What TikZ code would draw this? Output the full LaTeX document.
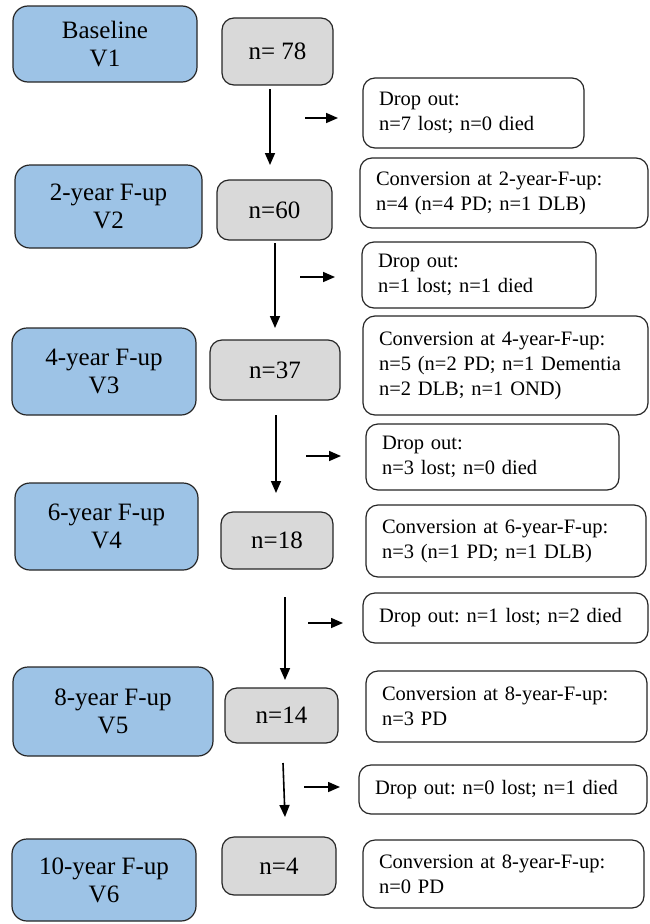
\documentclass[tikz,border=0pt]{standalone}
\usepackage{fontspec}
\setmainfont{Liberation Serif}
\usetikzlibrary{arrows.meta}
\definecolor{visitblue}{RGB}{157,195,230}
\definecolor{countgray}{RGB}{217,217,217}
\newcommand{\infofont}{\fontsize{20.5}{25}\selectfont\frenchspacing\hyphenpenalty=10000\relax}

\tikzset{
  visitbox/.style={draw=black!85, fill=visitblue, line width=1.2pt, rounded corners=15pt,
    align=center, font=\fontsize{25}{28}\selectfont},
  nbox/.style={draw=black!85, fill=countgray, line width=1.2pt, rounded corners=12pt,
    align=center, font=\fontsize{25}{28}\selectfont},
  infobox/.style={draw=black!85, fill=white, line width=1.2pt, rounded corners=12pt,
    align=left, inner xsep=16pt, font=\infofont},
  flow/.style={-{Triangle[length=12pt,width=10pt]}, line width=1.6pt}
}

\begin{document}
\begin{tikzpicture}[x=1pt, y=-1pt]
    \useasboundingbox (0,0) rectangle (649,924);

    % Visitas
    \foreach \i/\cx/\cy/\w/\h/\txt in {1/105/44/184/76/{Baseline\\V1},
        2/108.5/206.5/187/83/{2-year F-up\\V2}, 3/104/371.5/184/87/{4-year F-up\\V3},
        4/106.5/526.5/183/87/{6-year F-up\\V4}, 5/113/711.5/200/89/{8-year F-up\\V5},
        6/104/880/184/82/{10-year F-up\\V6}}
        \node[visitbox, minimum width=\w, minimum height=\h] (visit\i) at (\cx,\cy) {\txt};

    % Amostras (n)
    \foreach \i/\cx/\cy/\w/\h/\txt in {1/277.5/51.5/111/67/{n= 78},
        2/274.5/210/115/60/{n=60}, 3/275/370/130/60/{n=37}, 4/277/540.5/112/57/{n=18},
        5/281.5/715.5/113/55/{n=14}, 6/279/866/114/58/{n=4}}
        \node[nbox, minimum width=\w, minimum height=\h] (count\i) at (\cx,\cy) {\txt};

    % Drop out
    \foreach \i/\cx/\cy/\w/\h/\tw/\txt in {
        1/473.5/113/221/70/189/{Drop out:\\n=7 lost; n=0 died},
        2/479/275/234/66/202/{Drop out:\\n=1 lost; n=1 died},
        3/492.5/457/253/66/221/{Drop out:\\n=3 lost; n=0 died},
        4/505.5/618/285/50/253/{Drop out: n=1 lost; n=2 died},
        5/503/789.5/288/49/256/{Drop out: n=0 lost; n=1 died}}
        \node[infobox, minimum width=\w, minimum height=\h, text width=\tw] (drop\i) at (\cx,\cy) {\txt};

    % Conversoes
    \foreach \i/\cx/\cy/\w/\h/\tw/\txt in {
        2/504/193/288/70/256/{Conversion at 2-year-F-up:\\n=4 (n=4 PD; n=1 DLB)},
        3/505.5/365.5/285/99/253/{Conversion at 4-year-F-up:\\n=5 (n=2 PD; n=1 Dementia\\n=2 DLB; n=1 OND)},
        4/506/541/280/72/248/{Conversion at 6-year-F-up:\\n=3 (n=1 PD; n=1 DLB)},
        5/506.5/706.5/281/71/249/{Conversion at 8-year-F-up:\\n=3 PD},
        6/503.5/874/281/68/249/{Conversion at 8-year-F-up:\\n=0 PD}}
        \node[infobox, minimum width=\w, minimum height=\h, text width=\tw] (conv\i) at (\cx,\cy) {\txt};

    % Setas
    \foreach \i/\xa/\ya/\xb/\yb in {1/270/89/270/165, 2/275/243/275/328, 3/276/415/276/493,
        4/285/597/285/680, 5/283/763/285/817} {
        \coordinate (down\i a) at (\xa,\ya);
        \coordinate (down\i b) at (\xb,\yb);
        \draw[flow] (down\i a) -- (down\i b);
    }
    \foreach \i/\xa/\xb/\y in {1/305/338/118, 2/300/335/277, 3/306/341/456,
        4/308/343/623, 5/304/340/787} {
        \coordinate (side\i a) at (\xa,\y);
        \coordinate (side\i b) at (\xb,\y);
        \draw[flow] (side\i a) -- (side\i b);
    }
\end{tikzpicture}
\end{document}
